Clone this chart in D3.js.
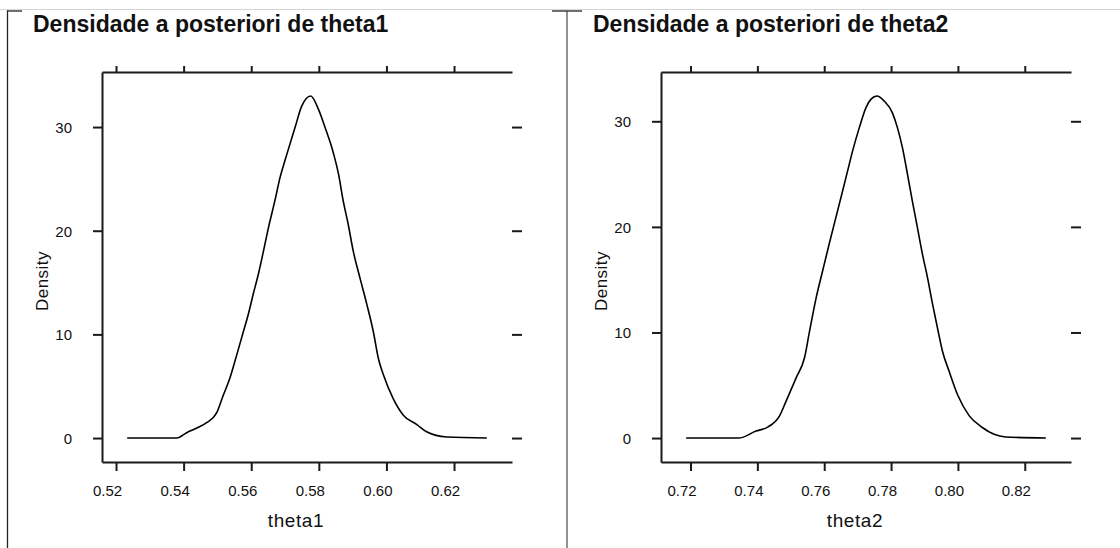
<!DOCTYPE html>
<html>
<head>
<meta charset="utf-8">
<script src="https://cdn.jsdelivr.net/npm/d3@7"></script>
<style>
  html, body { margin: 0; padding: 0; background: #fff; }
  svg { display: block; }
  text { font-family: "Liberation Sans", Arial, sans-serif; fill: #111; }
</style>
</head>
<body>
<svg id="chart" width="1120" height="548"></svg>
<script>
// ---- data ----
const titles = ["Densidade a posteriori de theta1", "Densidade a posteriori de theta2"];
const xLabels = ["theta1", "theta2"];
const yLabel = "Density";

const theta1X = [0.5233, 0.5380, 0.5409, 0.5439, 0.5468, 0.5498, 0.5517, 0.5537, 0.5557, 0.5577,
  0.5591, 0.5606, 0.5621, 0.5636, 0.5651, 0.5670, 0.5685, 0.5700, 0.5715, 0.5730, 0.5749, 0.5776,
  0.5799, 0.5818, 0.5843, 0.5858, 0.5872, 0.5887, 0.5902, 0.5922, 0.5942, 0.5961, 0.5976, 0.5991,
  0.6020, 0.6050, 0.6090, 0.6119, 0.6178, 0.6297];
const theta1Density = [0, 0, 0.52, 0.97, 1.48, 2.45, 4.1, 5.8, 8.0, 10.3,
  11.9, 13.9, 15.8, 18.0, 20.3, 22.9, 25.1, 26.8, 28.4, 30.0, 32.0, 33.0,
  31.7, 30.0, 27.5, 25.5, 22.9, 20.6, 18.0, 15.4, 12.9, 10.3, 7.7, 6.1,
  3.8, 2.2, 1.3, 0.6, 0.1, 0];

const theta2X = [0.7187, 0.7344, 0.7396, 0.7431, 0.7466, 0.7486, 0.7516, 0.7541, 0.7556, 0.7576,
  0.7595, 0.7615, 0.7635, 0.7655, 0.7670, 0.7685, 0.7705, 0.7725, 0.7740, 0.7758,
  0.7780, 0.7804, 0.7819, 0.7834, 0.7849, 0.7864, 0.7879, 0.7894, 0.7909, 0.7924,
  0.7939, 0.7954, 0.7974, 0.7999, 0.8034, 0.8073, 0.8108, 0.8143, 0.8263];
const theta2Density = [0, 0, 0.66, 1.04, 2.08, 3.5, 5.7, 7.6, 10.1, 13.3,
  15.8, 18.4, 20.9, 23.4, 25.3, 27.2, 29.4, 31.3, 32.1, 32.4,
  31.9, 30.8, 29.4, 27.5, 25.0, 22.4, 19.9, 17.4, 15.2, 12.7,
  10.4, 8.2, 6.3, 4.1, 2.1, 1.0, 0.35, 0.1, 0];

const xTicks1 = [0.52, 0.54, 0.56, 0.58, 0.60, 0.62];
const xTickLabels1 = ["0.52", "0.54", "0.56", "0.58", "0.60", "0.62"];
const xTicks2 = [0.72, 0.74, 0.76, 0.78, 0.80, 0.82];
const xTickLabels2 = ["0.72", "0.74", "0.76", "0.78", "0.80", "0.82"];
const yTicks = [0, 10, 20, 30];
const yTickLabels = ["0", "10", "20", "30"];

// ---- layout ----
const svg = d3.select("#chart");
const axisColor = "#1a1a1a";

// page frame lines
svg.append("line").attr("x1", 0).attr("x2", 1120).attr("y1", 9.5).attr("y2", 9.5)
  .attr("stroke", "#d4d4d4").attr("stroke-width", 1);
svg.append("line").attr("x1", 7.5).attr("x2", 7.5).attr("y1", 10.5).attr("y2", 548)
  .attr("stroke", "#222").attr("stroke-width", 1.3);
svg.append("line").attr("x1", 7).attr("x2", 22).attr("y1", 11).attr("y2", 11)
  .attr("stroke", "#222").attr("stroke-width", 1.3);
svg.append("line").attr("x1", 567).attr("x2", 567).attr("y1", 11).attr("y2", 548)
  .attr("stroke", "#808080").attr("stroke-width", 1.7);
svg.append("line").attr("x1", 552).attr("x2", 582).attr("y1", 11).attr("y2", 11)
  .attr("stroke", "#222").attr("stroke-width", 1.3);

const panels = [
  { left: 102, right: 512, top: 72, bottom: 462, titleX: 33,
    xs: theta1X, ys: theta1Density, xTicks: xTicks1, xTickLabels: xTickLabels1,
    title: titles[0], xLabel: xLabels[0] },
  { left: 661, right: 1071, top: 72, bottom: 462, titleX: 593,
    xs: theta2X, ys: theta2Density, xTicks: xTicks2, xTickLabels: xTickLabels2,
    title: titles[1], xLabel: xLabels[1] }
];

function styleAxis(g) {
  g.selectAll(".domain").attr("stroke", axisColor).attr("stroke-width", 2);
  g.selectAll(".tick line").attr("stroke", axisColor).attr("stroke-width", 2);
  g.selectAll("text").attr("fill", "#111").style("font-family", '"Liberation Sans", Arial, sans-serif');
}

panels.forEach(p => {
  const g = svg.append("g");
  const xExt = d3.extent(p.xs), xPad = (xExt[1] - xExt[0]) * 0.07;
  const yExt = d3.extent(p.ys), yPad = (yExt[1] - yExt[0]) * 0.07;
  const x = d3.scaleLinear().domain([xExt[0] - xPad, xExt[1] + xPad]).range([p.left, p.right]);
  const y = d3.scaleLinear().domain([yExt[0] - yPad, yExt[1] + yPad]).range([p.bottom, p.top]);

  // title
  g.append("text").attr("x", p.titleX).attr("y", 32)
    .attr("font-size", 23).attr("font-weight", "bold").text(p.title);

  // bottom axis
  const gb = g.append("g").attr("transform", `translate(0,${p.bottom})`)
    .call(d3.axisBottom(x).tickValues(p.xTicks).tickFormat((d, i) => p.xTickLabels[i])
      .tickSize(9).tickSizeOuter(0));
  gb.selectAll("text").attr("y", 34).attr("dy", 0).attr("dx", -9).attr("font-size", 15);
  styleAxis(gb);

  // top axis (ticks only)
  const gt = g.append("g").attr("transform", `translate(0,${p.top})`)
    .call(d3.axisTop(x).tickValues(p.xTicks).tickFormat("").tickSize(6).tickSizeOuter(0));
  styleAxis(gt);

  // left axis
  const gl = g.append("g").attr("transform", `translate(${p.left},0)`)
    .call(d3.axisLeft(y).tickValues(yTicks).tickFormat((d, i) => yTickLabels[i])
      .tickSize(9).tickSizeOuter(0).tickPadding(21));
  gl.selectAll("text").attr("font-size", 15).attr("dy", "0.36em");
  styleAxis(gl);

  // right ticks (no axis line)
  const gr = g.append("g").attr("transform", `translate(${p.right},0)`)
    .call(d3.axisRight(y).tickValues(yTicks).tickFormat("").tickSize(10).tickSizeOuter(0));
  gr.select(".domain").remove();
  styleAxis(gr);

  // axis labels
  g.append("text").attr("x", (p.left + p.right) / 2 - 11).attr("y", 527)
    .attr("text-anchor", "middle").attr("font-size", 19).attr("letter-spacing", 0.6)
    .text(p.xLabel);
  g.append("text").attr("transform", `translate(${p.left - 54},281) rotate(-90)`)
    .attr("text-anchor", "middle").attr("font-size", 17).attr("letter-spacing", 0.5)
    .text(yLabel);

  // density curve
  const pts = p.xs.map((v, i) => [v, p.ys[i]]);
  g.append("path").datum(pts)
    .attr("fill", "none").attr("stroke", "#000").attr("stroke-width", 1.6)
    .attr("stroke-linejoin", "round")
    .attr("d", d3.line().curve(d3.curveMonotoneX).x(d => x(d[0])).y(d => y(d[1])));
});
</script>
</body>
</html>
